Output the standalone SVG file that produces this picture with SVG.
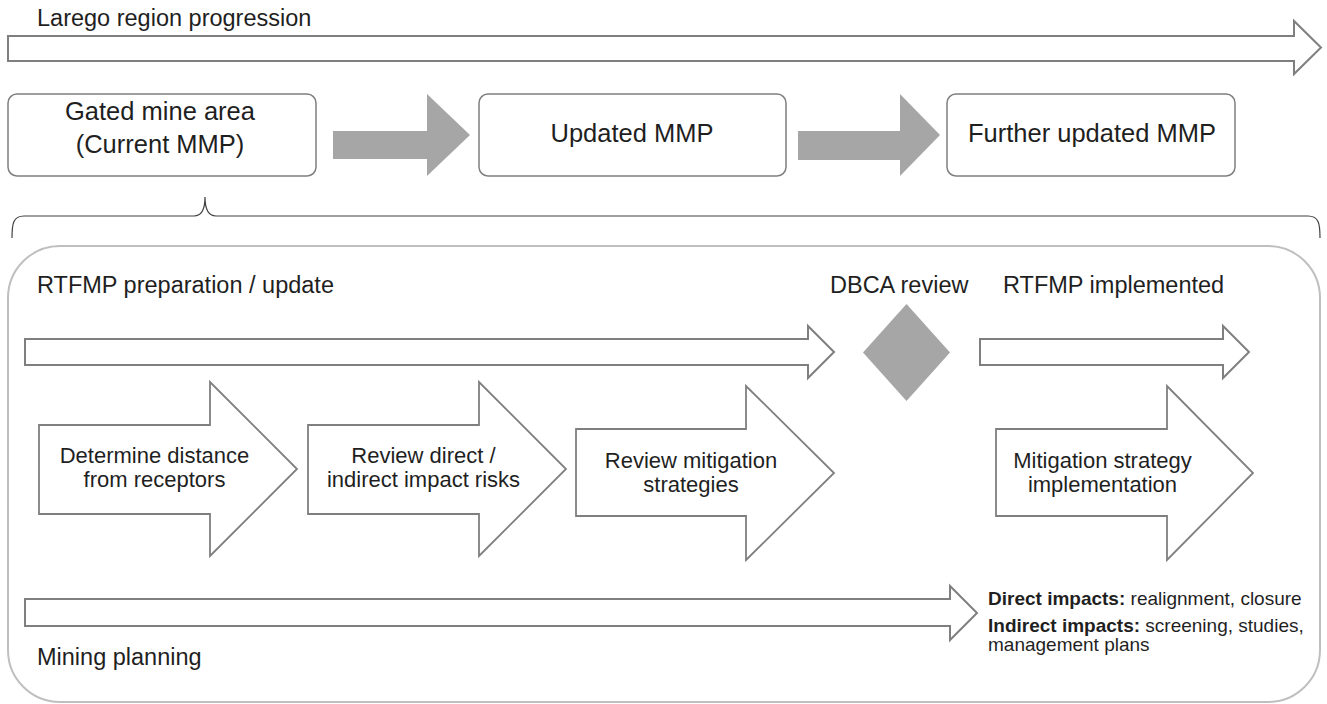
<svg xmlns="http://www.w3.org/2000/svg" width="1327" height="704" viewBox="0 0 1327 704">
  <style>
    text { font-family: "Liberation Sans", Arial, sans-serif; fill: #1f1f1f; }
    .lbl { font-size: 23.5px; }
    .box-t { font-size: 25.5px; text-anchor: middle; }
    .blk-t { font-size: 22px; text-anchor: middle; }
    .small { font-size: 19px; }
    .small .b { font-weight: bold; }
    .box { fill: #ffffff; stroke: #7f7f7f; stroke-width: 1.5; }
    .hollow { fill: #ffffff; stroke: #7f7f7f; stroke-width: 2; stroke-linejoin: miter; }
    .block { fill: #ffffff; stroke: #7f7f7f; stroke-width: 1.8; stroke-linejoin: miter; }
    .solid { fill: #a6a6a6; stroke: none; }
    .frame { fill: none; stroke: #bfbfbf; stroke-width: 2; }
    .brace { fill: none; stroke: #404040; stroke-width: 1.2; }
  </style>

  <!-- overall timeline -->
  <g id="region-progression">
    <polygon class="hollow" points="8,36 1294,36 1294,21 1321,47.5 1294,74 1294,61 8,61"/>
    <text class="lbl" x="37" y="26">Larego region progression</text>
  </g>

  <!-- mine plan stages -->
  <g id="gated-mine-area">
    <rect class="box" x="8" y="94" width="308" height="82" rx="9"/>
    <text class="box-t" x="160" y="120">Gated mine area</text>
    <text class="box-t" x="160" y="153">(Current MMP)</text>
  </g>
  <g id="updated-mmp">
    <rect class="box" x="479" y="94" width="307" height="82" rx="9"/>
    <text class="box-t" x="632" y="142">Updated MMP</text>
  </g>
  <g id="further-updated-mmp">
    <rect class="box" x="947" y="94" width="288" height="82" rx="9"/>
    <text class="box-t" x="1092" y="142">Further updated MMP</text>
  </g>

  <g id="connectors">
    <polygon class="solid" points="333,131 427,131 427,94 470,135 427,176 427,159 333,159"/>
    <polygon class="solid" points="798,131 900,131 900,94 940,135 900,176 900,160 798,160"/>
    <!-- brace from the first stage to the detail panel -->
    <path class="brace" d="M12,238 C12,224 13,216 24,216 H194 C201,216 205,210 205,197 C205,210 209,216 216,216 H1308 C1319,216 1320,224 1320,238"/>
  </g>

  <!-- detail panel -->
  <g id="rtfmp-panel">
    <rect class="frame" x="8" y="246" width="1312" height="456" rx="52"/>
    <text class="lbl" x="37" y="293">RTFMP preparation / update</text>
    <text class="lbl" x="37" y="665">Mining planning</text>
  </g>

  <g id="rtfmp-preparation">
    <polygon class="hollow" points="25,339 808,339 808,326 834,352 808,378 808,365 25,365"/>
  </g>

  <g id="dbca-review">
    <polygon class="solid" points="906.5,304 950,352.5 906.5,401 863,352.5"/>
    <text class="lbl" x="830" y="293">DBCA review</text>
  </g>

  <g id="rtfmp-implemented">
    <polygon class="hollow" points="980,339 1223,339 1223,326 1249,352 1223,378 1223,365 980,365"/>
    <text class="lbl" x="1003" y="293">RTFMP implemented</text>
  </g>

  <g id="determine-distance">
    <polygon class="block" points="39,425 210,425 210,382 297,469 210,556 210,514 39,514"/>
    <text class="blk-t" x="154.5" y="463">Determine distance</text>
    <text class="blk-t" x="154.5" y="487">from receptors</text>
  </g>

  <g id="review-impact-risks">
    <polygon class="block" points="308,425 479,425 479,382 566,469 479,556 479,514 308,514"/>
    <text class="blk-t" x="423.5" y="463">Review direct /</text>
    <text class="blk-t" x="423.5" y="487">indirect impact risks</text>
  </g>

  <g id="review-mitigation">
    <polygon class="block" points="576,429 746,429 746,386 834,473 746,560 746,516 576,516"/>
    <text class="blk-t" x="691" y="468">Review mitigation</text>
    <text class="blk-t" x="691" y="492">strategies</text>
  </g>

  <g id="mitigation-implementation">
    <polygon class="block" points="996,429 1167,429 1167,386 1253,473 1167,560 1167,516 996,516"/>
    <text class="blk-t" x="1102.5" y="468">Mitigation strategy</text>
    <text class="blk-t" x="1102.5" y="492">implementation</text>
  </g>

  <g id="mining-planning">
    <polygon class="hollow" points="25,599 950,599 950,586 977,613 950,640 950,626 25,626"/>
  </g>

  <g id="impact-notes">
    <text class="small" x="988" y="605"><tspan class="b">Direct impacts:</tspan> realignment, closure</text>
    <text class="small" x="988" y="632"><tspan class="b">Indirect impacts:</tspan> screening, studies,</text>
    <text class="small" x="988" y="651">management plans</text>
  </g>
</svg>
